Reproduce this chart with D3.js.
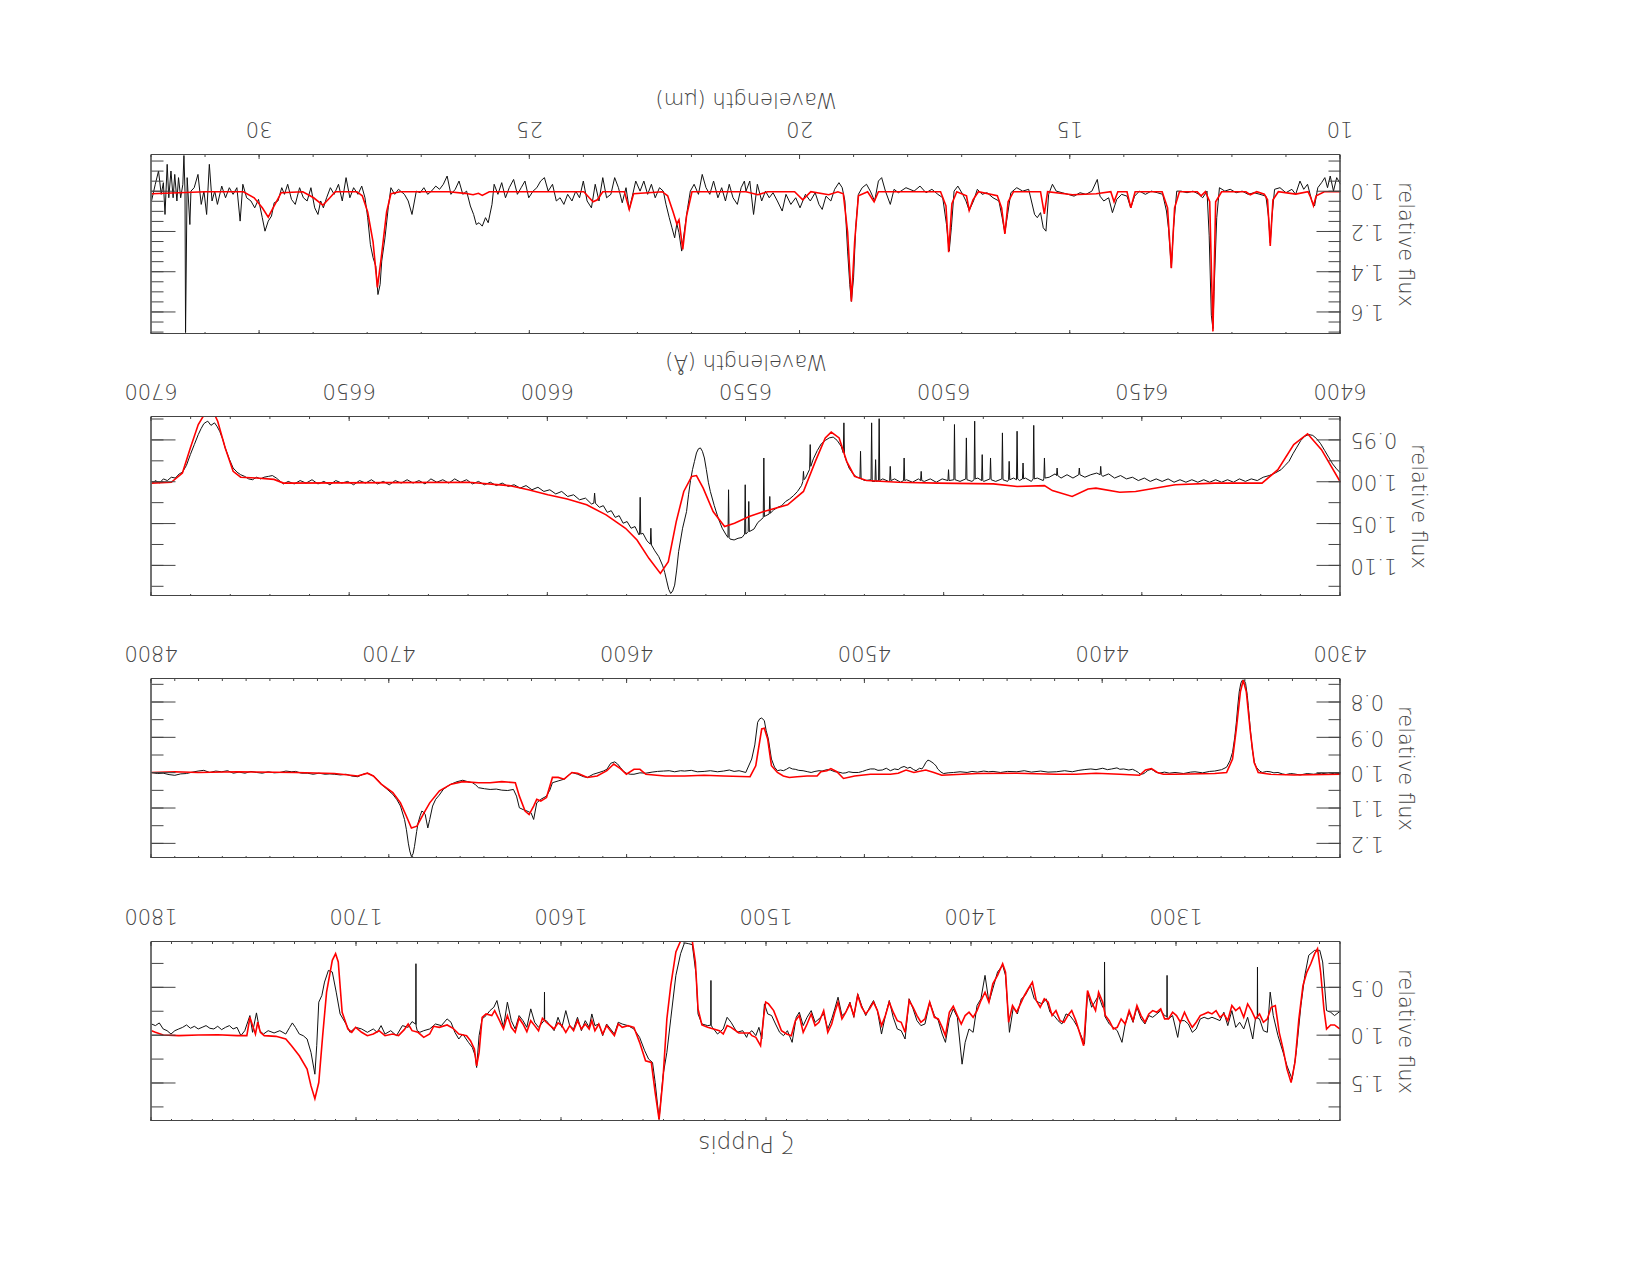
<!DOCTYPE html>
<html>
<head>
<meta charset="utf-8">
<script src="https://d3js.org/d3.v7.min.js"></script>
<style>
  body { margin: 0; background: #fff; }
</style>
</head>
<body>
<div id="chart"></div>
<script>
// ---- data: [wavelength, relative flux] ----

// UV (Angstrom)
const uvObserved = [[1800.0,0.878],[1798.1,0.895],[1796.2,0.867],[1794.3,0.930],[1792.4,0.948],[1790.5,0.983],[1788.6,0.948],[1786.7,0.930],[1784.8,0.913],[1782.9,0.888],[1781.0,0.923],[1779.1,0.902],[1777.2,0.930],[1775.3,0.913],[1773.4,0.895],[1771.5,0.923],[1769.6,0.930],[1767.7,0.902],[1765.8,0.937],[1763.9,0.913],[1762.0,0.895],[1760.2,0.930],[1758.3,0.913],[1756.4,1.000],[1754.5,0.948],[1752.0,0.790],[1750.7,0.965],[1748.8,0.762],[1747.2,0.948],[1745.4,0.983],[1743.1,0.948],[1740.2,0.972],[1737.4,0.948],[1734.5,0.983],[1732.6,0.913],[1731.3,0.867],[1729.8,0.913],[1727.9,0.983],[1726.0,1.000],[1724.1,1.035],[1722.2,1.175],[1720.3,1.403],[1719.4,1.105],[1718.4,0.650],[1716.9,0.580],[1715.6,0.440],[1713.7,0.318],[1711.8,0.335],[1709.9,0.545],[1708.0,0.773],[1705.1,0.878],[1703.2,0.965],[1700.4,0.913],[1697.5,0.930],[1694.7,0.965],[1691.8,0.930],[1689.9,0.965],[1688.0,0.895],[1686.1,0.983],[1683.3,0.948],[1680.5,1.000],[1677.6,0.895],[1674.8,0.913],[1672.9,0.853],[1671.1,0.880],[1671.0,0.248],[1670.9,0.900],[1670.4,0.948],[1669.1,0.965],[1667.2,0.948],[1664.3,0.930],[1661.5,0.878],[1658.6,0.895],[1655.8,0.825],[1653.9,0.860],[1652.0,0.965],[1650.1,1.035],[1648.2,0.983],[1645.4,1.070],[1643.5,1.123],[1642.1,1.210],[1641.4,1.333],[1640.2,1.000],[1638.7,0.825],[1636.8,0.790],[1634.9,0.738],[1633.0,0.703],[1631.5,0.633],[1630.2,0.755],[1628.3,0.913],[1626.4,0.650],[1624.5,0.843],[1622.6,0.930],[1620.7,0.790],[1618.8,0.843],[1616.9,0.913],[1615.0,0.720],[1613.1,0.860],[1611.2,0.913],[1608.4,0.840],[1608.3,0.545],[1608.2,0.840],[1607.4,0.843],[1605.5,0.895],[1603.6,0.948],[1601.7,0.808],[1599.8,0.913],[1597.9,0.738],[1596.0,0.895],[1594.1,0.930],[1592.2,0.808],[1590.3,0.948],[1588.4,0.843],[1586.5,0.913],[1585.2,0.773],[1583.7,0.895],[1581.8,0.878],[1579.9,1.000],[1578.0,0.878],[1576.1,0.930],[1574.2,0.983],[1572.3,0.860],[1570.4,0.878],[1567.6,0.895],[1564.7,0.930],[1561.9,1.018],[1559.4,1.158],[1557.5,1.245],[1555.6,1.280],[1554.3,1.490],[1552.4,1.875],[1550.5,1.420],[1548.6,1.175],[1546.7,0.825],[1544.2,0.370],[1541.9,0.143],[1540.0,0.030],[1538.1,0.038],[1536.2,0.048],[1534.3,0.370],[1533.4,0.773],[1531.5,0.878],[1528.7,0.895],[1527.2,0.890],[1527.1,0.423],[1527.0,0.890],[1526.4,0.913],[1523.9,0.983],[1521.1,0.930],[1519.2,0.808],[1517.3,0.860],[1514.4,0.965],[1511.6,0.948],[1509.7,1.018],[1509.1,0.983],[1507.1,0.948],[1505.2,1.000],[1503.7,0.913],[1502.3,1.035],[1501.0,0.668],[1499.4,0.773],[1497.5,0.790],[1495.6,0.878],[1493.6,0.965],[1491.7,1.000],[1489.8,0.948],[1487.5,1.070],[1485.5,0.808],[1484.0,0.755],[1482.1,0.895],[1480.2,0.808],[1478.2,0.738],[1476.3,0.860],[1474.4,0.825],[1472.1,0.773],[1470.1,0.930],[1468.2,0.825],[1466.7,0.720],[1465.1,0.598],[1463.2,0.790],[1461.3,0.755],[1459.3,0.650],[1457.4,0.808],[1455.5,0.563],[1453.6,0.685],[1451.6,0.790],[1449.7,0.703],[1447.8,0.633],[1445.9,0.738],[1443.9,0.983],[1442.0,0.790],[1440.1,0.633],[1438.2,0.808],[1436.2,0.930],[1434.3,0.948],[1432.4,1.035],[1430.4,0.615],[1428.5,0.720],[1426.6,0.843],[1424.7,0.895],[1422.7,0.878],[1420.4,0.650],[1418.1,0.790],[1416.2,0.843],[1414.3,0.983],[1412.7,1.070],[1410.8,0.825],[1408.9,0.720],[1406.9,0.808],[1404.6,1.298],[1403.1,1.070],[1401.2,0.930],[1399.2,0.965],[1397.3,0.685],[1395.4,0.615],[1393.4,0.370],[1391.5,0.650],[1389.6,0.510],[1387.3,0.335],[1384.8,0.265],[1383.4,0.370],[1381.5,0.965],[1379.6,0.703],[1377.6,0.773],[1375.7,0.615],[1373.8,0.580],[1371.3,0.475],[1369.4,0.615],[1367.4,0.650],[1365.5,0.668],[1363.6,0.615],[1361.7,0.755],[1359.7,0.790],[1357.8,0.843],[1355.9,0.878],[1353.9,0.773],[1352.0,0.790],[1350.1,0.843],[1348.2,0.913],[1346.2,1.018],[1344.9,1.088],[1343.4,0.545],[1341.4,0.703],[1339.9,0.650],[1338.0,0.580],[1336.0,0.703],[1335.2,0.700],[1335.1,0.230],[1334.9,0.800],[1332.8,0.878],[1330.8,0.913],[1328.9,0.948],[1326.6,1.070],[1325.0,0.878],[1323.1,0.755],[1321.2,0.860],[1319.3,0.703],[1317.3,0.825],[1315.4,0.878],[1313.5,0.790],[1311.6,0.808],[1309.6,0.773],[1307.7,0.738],[1305.8,0.790],[1304.7,0.800],[1304.6,0.370],[1304.5,0.810],[1303.9,0.825],[1301.9,0.790],[1299.4,1.018],[1298.1,0.843],[1296.1,0.843],[1294.2,0.878],[1292.3,0.965],[1290.4,0.930],[1288.4,0.825],[1286.5,0.808],[1284.6,0.825],[1282.7,0.808],[1280.7,0.825],[1278.8,0.843],[1276.9,0.755],[1275.0,0.895],[1273.0,0.738],[1271.1,0.913],[1269.2,0.860],[1267.2,0.930],[1265.3,0.808],[1262.8,1.035],[1261.5,0.825],[1260.6,0.810],[1260.5,0.283],[1260.4,0.820],[1259.5,0.825],[1257.6,0.948],[1255.7,0.965],[1254.3,0.545],[1252.8,0.790],[1250.5,1.000],[1248.0,1.175],[1246.1,1.315],[1243.6,1.455],[1241.6,1.175],[1239.3,0.685],[1237.4,0.370],[1235.5,0.160],[1232.6,0.108],[1230.1,0.108],[1228.7,0.230],[1226.8,0.738],[1224.8,0.755],[1222.9,0.790],[1220.4,0.748]];

const uvModel = [[1800,0.948],[1798.1,0.965],[1794.3,0.993],[1786.7,1.0],[1777.2,0.993],[1767.7,0.990],[1758.3,1.0],[1753.5,1.0],[1752.0,0.808],[1750.7,0.895],[1749.3,0.983],[1748.2,0.860],[1746.9,0.965],[1745.0,1.0],[1739.3,1.007],[1734.5,1.035],[1731.7,1.105],[1727.9,1.21],[1724.1,1.35],[1722.2,1.525],[1720.3,1.658],[1718.4,1.49],[1716.5,1.0],[1714.6,0.545],[1711.8,0.213],[1710.2,0.143],[1708.9,0.23],[1707.0,0.755],[1704.2,0.93],[1702.3,0.965],[1700.4,0.913],[1697.5,0.965],[1694.7,1.0],[1691.8,0.983],[1689.0,0.948],[1686.1,1.0],[1682.4,0.983],[1679.5,1.0],[1676.7,0.937],[1674.8,0.878],[1672.9,0.948],[1670.0,0.965],[1667.2,1.018],[1664.3,0.983],[1662.4,0.902],[1659.6,0.913],[1655.8,0.888],[1652.9,0.923],[1650.1,0.983],[1646.3,1.0],[1644.4,1.053],[1642.5,1.14],[1641.4,1.315],[1640.2,1.175],[1638.7,0.808],[1636.8,0.773],[1634.0,0.79],[1632.6,0.738],[1630.2,0.843],[1628.3,0.93],[1626.4,0.79],[1624.5,0.913],[1622.6,0.965],[1620.7,0.818],[1618.8,0.878],[1616.9,0.958],[1615.0,0.843],[1613.1,0.895],[1611.2,0.948],[1609.3,0.818],[1607.4,0.86],[1605.5,0.895],[1603.6,0.93],[1601.7,0.867],[1599.8,0.895],[1597.9,0.965],[1596.0,0.895],[1594.1,0.948],[1592.2,0.843],[1590.3,0.93],[1588.4,0.878],[1586.5,0.93],[1585.2,0.843],[1583.7,0.948],[1581.8,0.878],[1579.9,0.983],[1578.0,0.895],[1576.1,0.948],[1574.2,1.0],[1572.3,0.878],[1570.4,0.913],[1567.6,0.895],[1564.7,0.913],[1561.9,1.07],[1559.0,1.263],[1556.2,1.28],[1554.3,1.595],[1552.4,1.875],[1550.5,1.455],[1548.6,0.825],[1546.7,0.475],[1544.2,0.125],[1541.9,0.01],[1539.1,0.0],[1536.2,0.01],[1534.7,0.23],[1533.4,0.72],[1531.5,0.888],[1528.7,0.913],[1525.8,0.93],[1523.0,0.948],[1521.1,0.983],[1519.2,0.895],[1517.3,0.913],[1513.5,0.972],[1508.2,0.972],[1507.1,1.0],[1505.2,1.018],[1502.9,1.105],[1501.3,0.79],[1500.4,0.65],[1499.0,0.668],[1496.5,0.738],[1494.6,0.843],[1492.7,0.948],[1490.2,0.983],[1487.9,1.0],[1485.9,0.843],[1484.0,0.79],[1482.1,0.965],[1480.2,0.878],[1478.2,0.773],[1476.3,0.895],[1474.4,0.86],[1472.1,0.738],[1470.1,0.965],[1468.2,0.878],[1466.7,0.755],[1465.1,0.65],[1463.2,0.825],[1461.3,0.755],[1459.3,0.668],[1457.4,0.79],[1455.5,0.58],[1453.6,0.703],[1451.6,0.773],[1449.7,0.72],[1447.8,0.65],[1445.9,0.738],[1443.9,0.895],[1442.0,0.79],[1440.1,0.65],[1438.2,0.755],[1436.2,0.843],[1434.3,0.86],[1432.4,0.965],[1430.4,0.633],[1428.5,0.703],[1426.6,0.79],[1424.7,0.86],[1422.7,0.825],[1420.4,0.65],[1418.1,0.808],[1416.2,0.825],[1414.3,0.913],[1412.7,1.0],[1410.8,0.755],[1408.9,0.692],[1406.9,0.79],[1405.0,0.878],[1403.1,0.79],[1401.2,0.755],[1399.2,0.808],[1397.3,0.738],[1395.4,0.633],[1393.4,0.545],[1391.5,0.65],[1389.6,0.458],[1387.3,0.37],[1384.8,0.248],[1383.4,0.335],[1381.9,0.86],[1380.0,0.685],[1378.0,0.755],[1376.1,0.668],[1374.2,0.58],[1372.3,0.51],[1370.3,0.44],[1368.4,0.633],[1366.5,0.703],[1364.5,0.615],[1362.6,0.65],[1360.7,0.79],[1358.8,0.738],[1356.8,0.843],[1354.9,0.86],[1353.0,0.79],[1351.1,0.738],[1349.1,0.843],[1346.8,1.0],[1345.3,1.105],[1343.4,0.528],[1341.4,0.65],[1339.5,0.738],[1338.0,0.545],[1336.0,0.65],[1334.7,0.79],[1332.8,0.843],[1330.8,0.93],[1328.9,0.913],[1327.0,0.825],[1325.0,0.878],[1323.1,0.738],[1321.2,0.843],[1319.3,0.685],[1317.3,0.79],[1315.4,0.86],[1313.5,0.773],[1311.6,0.738],[1309.6,0.755],[1307.7,0.72],[1305.8,0.825],[1303.9,0.825],[1301.9,0.755],[1300.0,0.79],[1298.1,0.86],[1296.1,0.755],[1294.2,0.843],[1292.3,0.913],[1290.4,0.86],[1288.4,0.79],[1286.5,0.773],[1284.6,0.755],[1282.7,0.773],[1280.7,0.738],[1278.8,0.808],[1276.9,0.773],[1275.0,0.843],[1273.0,0.685],[1271.1,0.738],[1269.2,0.703],[1267.2,0.808],[1265.3,0.668],[1263.4,0.738],[1261.5,0.825],[1259.5,0.773],[1257.6,0.86],[1255.7,0.825],[1253.8,0.703],[1251.8,0.685],[1249.9,0.965],[1248.0,1.14],[1246.1,1.35],[1244.1,1.49],[1242.2,1.28],[1240.3,0.825],[1238.3,0.475],[1236.4,0.335],[1234.5,0.248],[1232.6,0.143],[1231.2,0.09],[1229.7,0.335],[1228.1,0.72],[1226.8,0.93],[1224.8,0.888],[1222.9,0.888],[1220.4,0.93]];

// optical blue (Angstrom)
const blueObserved = [[4800.0,0.998],[4797.5,1.001],[4795.1,1.000],[4792.6,1.004],[4790.2,1.006],[4787.7,1.002],[4785.3,1.001],[4782.8,0.997],[4780.4,0.994],[4778.0,0.992],[4775.5,0.998],[4773.0,0.994],[4770.5,0.996],[4768.0,0.993],[4765.6,1.000],[4763.2,0.997],[4760.7,1.000],[4758.2,0.995],[4755.8,0.998],[4753.4,1.000],[4750.9,0.996],[4748.4,0.999],[4746.0,0.998],[4743.5,0.994],[4741.0,0.996],[4739.4,0.995],[4737.0,1.000],[4734.5,1.000],[4732.0,1.003],[4729.6,1.000],[4727.0,1.003],[4725.0,1.002],[4723.1,1.003],[4720.5,1.005],[4718.2,1.003],[4715.8,1.008],[4713.3,1.010],[4711.0,1.003],[4709.2,1.000],[4706.7,1.008],[4705.0,1.018],[4703.4,1.031],[4701.0,1.045],[4698.5,1.060],[4696.8,1.075],[4695.3,1.093],[4693.6,1.131],[4692.8,1.160],[4692.0,1.198],[4691.4,1.220],[4690.7,1.236],[4690.0,1.228],[4689.4,1.207],[4688.5,1.165],[4687.9,1.141],[4687.0,1.120],[4686.3,1.107],[4685.4,1.112],[4684.9,1.117],[4684.3,1.138],[4683.8,1.155],[4683.0,1.131],[4681.8,1.093],[4680.5,1.074],[4679.0,1.062],[4677.3,1.046],[4675.5,1.037],[4674.0,1.031],[4671.5,1.024],[4669.1,1.020],[4667.0,1.024],[4665.0,1.027],[4663.7,1.033],[4662.5,1.041],[4660.0,1.044],[4657.6,1.046],[4655.0,1.045],[4652.7,1.048],[4650.2,1.049],[4647.8,1.046],[4646.5,1.065],[4645.3,1.098],[4643.7,1.103],[4642.1,1.107],[4641.2,1.110],[4640.4,1.112],[4639.3,1.131],[4638.0,1.084],[4636.3,1.074],[4633.9,1.065],[4632.5,1.048],[4631.4,1.027],[4629.0,1.022],[4626.5,1.017],[4625.0,1.008],[4623.2,0.998],[4620.8,1.003],[4618.3,1.010],[4616.7,1.012],[4614.2,1.003],[4611.8,0.998],[4610.0,0.994],[4608.5,0.989],[4606.9,0.972],[4605.2,0.968],[4604.0,0.974],[4602.8,0.984],[4601.5,0.995],[4600.3,1.000],[4598.7,1.003],[4597.1,1.003],[4594.6,0.999],[4592.1,1.000],[4589.5,0.997],[4587.2,0.995],[4584.7,0.994],[4582.3,0.993],[4580.0,0.996],[4577.5,0.993],[4575.8,0.994],[4573.0,0.992],[4570.5,0.996],[4567.6,0.995],[4565.0,0.993],[4562.0,0.996],[4559.4,0.994],[4557.0,0.991],[4555.0,0.995],[4552.9,0.993],[4550.1,0.998],[4547.6,0.960],[4546.3,0.920],[4545.1,0.856],[4544.2,0.846],[4543.4,0.844],[4542.3,0.851],[4541.5,0.880],[4540.6,0.903],[4539.3,0.960],[4538.0,0.983],[4536.8,0.993],[4535.5,0.991],[4534.3,0.993],[4533.0,0.989],[4531.8,0.984],[4530.5,0.988],[4529.3,0.989],[4527.8,0.992],[4526.0,0.993],[4524.0,0.996],[4522.6,0.998],[4521.0,0.995],[4519.3,0.993],[4518.0,0.994],[4516.0,0.990],[4514.5,0.991],[4512.6,0.996],[4511.0,0.997],[4509.3,1.000],[4508.0,0.999],[4506.8,0.996],[4505.0,0.998],[4502.7,0.998],[4501.0,0.995],[4499.3,0.991],[4497.7,0.988],[4496.0,0.988],[4494.5,0.992],[4492.7,0.991],[4491.0,0.986],[4489.3,0.993],[4487.5,0.988],[4486.0,0.990],[4484.8,0.984],[4483.5,0.981],[4482.0,0.986],[4481.0,0.983],[4479.5,0.990],[4478.5,0.993],[4477.0,0.986],[4476.0,0.988],[4475.2,0.980],[4474.4,0.970],[4473.5,0.963],[4472.7,0.965],[4471.8,0.969],[4471.0,0.973],[4470.0,0.980],[4469.4,0.988],[4468.0,0.997],[4466.9,1.001],[4465.0,0.999],[4462.7,0.998],[4460.0,0.996],[4457.0,0.998],[4455.0,0.995],[4452.7,0.997],[4450.0,0.994],[4448.0,0.996],[4446.1,0.995],[4443.0,0.998],[4440.0,0.995],[4436.1,0.996],[4433.0,0.993],[4430.0,0.997],[4426.1,0.994],[4423.0,0.997],[4419.5,0.996],[4416.0,0.993],[4412.8,0.996],[4410.0,0.992],[4407.8,0.990],[4405.0,0.988],[4402.8,0.990],[4400.0,0.986],[4398.0,0.990],[4396.2,0.988],[4394.0,0.985],[4392.8,0.989],[4391.2,0.988],[4389.0,0.991],[4387.5,0.989],[4386.2,0.993],[4385.0,0.998],[4384.2,1.003],[4383.0,1.002],[4382.0,0.998],[4381.0,0.992],[4379.5,0.989],[4378.5,0.993],[4377.9,0.996],[4376.2,1.000],[4374.0,0.997],[4372.0,1.000],[4369.6,0.998],[4366.0,1.001],[4363.0,0.997],[4361.2,0.996],[4358.0,0.999],[4355.0,0.995],[4352.9,0.994],[4350.0,0.990],[4347.9,0.983],[4346.5,0.965],[4345.4,0.941],[4344.5,0.900],[4343.8,0.856],[4343.2,0.810],[4342.6,0.770],[4341.9,0.745],[4341.3,0.737],[4340.5,0.737],[4339.9,0.746],[4339.2,0.780],[4338.8,0.808],[4338.0,0.870],[4337.1,0.932],[4336.2,0.970],[4335.4,0.983],[4334.0,0.994],[4332.9,0.998],[4331.0,0.995],[4329.6,0.996],[4328.0,0.999],[4326.3,0.998],[4324.5,1.002],[4323.0,1.004],[4321.0,1.001],[4319.6,1.002],[4317.0,1.005],[4314.0,1.001],[4311.3,1.003],[4308.0,1.000],[4305.0,1.003],[4302.5,1.000],[4300.0,1.001]];

const blueModel = [[4800,0.998],[4790.2,0.996],[4780.4,0.998],[4764.0,0.996],[4739.4,0.998],[4723.1,1.001],[4713.3,1.008],[4709.2,1.0],[4706.7,1.008],[4703.4,1.031],[4698.5,1.055],[4695.3,1.084],[4692.8,1.122],[4690.7,1.155],[4688.4,1.150],[4685.4,1.112],[4683.0,1.084],[4678.9,1.050],[4674.0,1.031],[4669.1,1.024],[4662.5,1.027],[4657.6,1.027],[4652.7,1.024],[4647.0,1.027],[4645.3,1.065],[4642.9,1.107],[4641.2,1.117],[4639.3,1.093],[4638.0,1.074],[4636.3,1.079],[4633.9,1.069],[4631.4,1.012],[4629.0,1.012],[4626.5,1.017],[4623.2,0.998],[4620.8,1.0],[4616.7,1.012],[4612.6,1.008],[4608.5,0.993],[4605.6,0.974],[4602.8,0.987],[4600.3,1.003],[4597.1,0.989],[4594.6,0.989],[4592.1,1.003],[4584.0,1.008],[4575.8,1.008],[4567.6,1.006],[4559.4,1.008],[4548.3,1.010],[4545.9,0.979],[4543.4,0.875],[4542.3,0.873],[4540.9,0.903],[4539.3,0.979],[4536.8,0.998],[4534.3,1.008],[4531.8,1.012],[4528.5,1.010],[4524.3,1.008],[4520.1,1.008],[4518.5,0.996],[4516.0,0.993],[4514.3,0.987],[4511.8,0.996],[4509.0,1.015],[4504.3,1.008],[4497.7,1.003],[4489.3,1.003],[4486.0,1.0],[4482.7,0.991],[4479.4,0.998],[4474.4,0.991],[4471.0,0.998],[4467.7,1.006],[4452.7,1.001],[4436.1,1.0],[4419.5,1.003],[4411.1,1.003],[4402.8,1.0],[4392.8,1.003],[4384.5,1.006],[4382.0,0.991],[4379.5,0.987],[4377.0,0.998],[4374.5,1.003],[4369.6,1.003],[4352.9,1.001],[4347.9,0.998],[4345.4,0.960],[4343.8,0.875],[4342.1,0.770],[4340.9,0.737],[4339.6,0.770],[4337.9,0.884],[4336.3,0.970],[4334.6,0.998],[4329.6,1.003],[4319.6,1.005],[4300,1.003]];

// H-alpha region (Angstrom)
const haObserved = [[6700.0,1.002],[6699.0,0.998],[6698.0,1.001],[6697.0,0.996],[6696.0,0.998],[6695.0,0.994],[6694.0,0.995],[6693.0,0.990],[6692.2,0.988],[6691.2,0.980],[6690.2,0.967],[6689.2,0.955],[6688.2,0.943],[6687.5,0.936],[6686.8,0.930],[6686.2,0.928],[6685.8,0.927],[6685.0,0.932],[6684.1,0.929],[6683.5,0.933],[6682.8,0.939],[6682.0,0.949],[6681.4,0.959],[6680.4,0.972],[6679.4,0.983],[6678.4,0.988],[6677.5,0.991],[6676.5,0.993],[6675.5,0.996],[6674.5,0.997],[6673.5,0.994],[6672.5,0.996],[6671.6,0.994],[6670.5,0.993],[6669.5,0.992],[6668.5,0.995],[6667.5,0.999],[6666.7,1.002],[6665.5,0.999],[6664.0,1.002],[6662.5,0.998],[6661.0,1.001],[6659.5,0.997],[6658.0,1.002],[6656.5,0.999],[6655.0,1.003],[6653.5,0.998],[6652.0,1.001],[6650.5,0.999],[6649.0,1.003],[6647.5,0.998],[6646.0,1.001],[6644.5,0.997],[6643.0,1.002],[6641.5,0.999],[6640.0,1.003],[6638.5,0.998],[6637.0,1.001],[6635.5,0.997],[6634.0,1.001],[6632.5,0.998],[6631.0,1.002],[6629.5,0.996],[6628.0,1.000],[6626.5,0.997],[6625.0,1.001],[6623.5,0.996],[6622.0,1.000],[6620.5,0.997],[6619.0,1.002],[6617.5,0.999],[6616.0,1.003],[6614.5,1.000],[6613.0,1.004],[6611.5,1.001],[6610.0,1.005],[6608.5,1.003],[6607.0,1.007],[6605.5,1.004],[6604.0,1.009],[6602.5,1.006],[6601.0,1.011],[6599.5,1.009],[6598.0,1.014],[6596.5,1.011],[6595.0,1.017],[6593.5,1.015],[6592.0,1.021],[6590.5,1.019],[6589.0,1.026],[6588.4,1.025],[6588.2,1.013],[6588.0,1.025],[6587.0,1.030],[6586.0,1.028],[6585.0,1.036],[6584.0,1.034],[6583.0,1.042],[6582.0,1.040],[6581.0,1.049],[6580.0,1.047],[6579.0,1.055],[6578.0,1.053],[6577.0,1.063],[6576.85,1.062],[6576.7,1.018],[6576.55,1.062],[6576.0,1.061],[6575.0,1.070],[6574.15,1.074],[6574.0,1.055],[6573.85,1.075],[6573.0,1.082],[6572.0,1.089],[6571.0,1.100],[6570.5,1.108],[6570.0,1.118],[6569.5,1.128],[6569.0,1.133],[6568.5,1.130],[6568.0,1.123],[6567.5,1.105],[6567.0,1.083],[6566.0,1.055],[6565.0,1.035],[6564.5,1.015],[6564.0,0.998],[6563.5,0.985],[6563.0,0.975],[6562.5,0.965],[6562.0,0.960],[6561.5,0.959],[6561.0,0.963],[6560.5,0.971],[6560.0,0.985],[6559.5,1.000],[6559.0,1.011],[6558.0,1.028],[6557.0,1.043],[6556.0,1.055],[6555.0,1.063],[6554.55,1.066],[6554.4,1.009],[6554.25,1.066],[6554.0,1.068],[6553.0,1.069],[6552.0,1.067],[6551.0,1.066],[6550.35,1.062],[6550.2,1.003],[6550.05,1.062],[6549.45,1.059],[6549.3,1.023],[6549.15,1.059],[6548.0,1.056],[6547.0,1.048],[6546.0,1.044],[6545.65,1.042],[6545.5,0.971],[6545.35,1.041],[6545.0,1.040],[6544.15,1.038],[6544.0,1.017],[6543.85,1.037],[6543.0,1.033],[6542.0,1.030],[6541.0,1.028],[6540.0,1.023],[6539.0,1.020],[6538.0,1.016],[6537.0,1.011],[6536.0,1.004],[6535.65,0.999],[6535.5,0.987],[6535.35,0.997],[6535.0,0.995],[6534.0,0.985],[6533.95,0.984],[6533.8,0.955],[6533.65,0.981],[6533.0,0.972],[6532.0,0.962],[6531.0,0.954],[6530.0,0.950],[6529.0,0.947],[6528.0,0.946],[6527.0,0.950],[6526.0,0.957],[6525.45,0.965],[6525.3,0.929],[6525.15,0.968],[6525.0,0.970],[6524.0,0.983],[6523.0,0.990],[6522.0,0.994],[6521.25,0.995],[6521.1,0.963],[6520.95,0.996],[6520.0,0.998],[6518.45,0.997],[6518.3,0.929],[6518.15,0.999],[6517.45,0.999],[6517.3,0.973],[6517.15,0.999],[6516.55,0.998],[6516.4,0.924],[6516.25,0.998],[6515.5,0.996],[6514.0,0.999],[6513.75,0.998],[6513.6,0.981],[6513.45,0.998],[6512.5,0.996],[6511.0,1.000],[6510.25,0.998],[6510.1,0.971],[6509.95,0.998],[6509.5,0.997],[6508.0,1.000],[6506.5,0.996],[6505.95,0.998],[6505.8,0.987],[6505.65,0.998],[6505.0,0.999],[6503.5,0.996],[6502.0,1.000],[6500.5,0.996],[6499.05,0.998],[6498.9,0.985],[6498.75,0.998],[6497.55,0.997],[6497.4,0.931],[6497.25,0.997],[6496.0,0.999],[6494.55,0.996],[6494.4,0.947],[6494.25,0.997],[6493.0,0.999],[6492.45,0.997],[6492.3,0.927],[6492.15,0.996],[6491.5,0.995],[6490.55,0.998],[6490.4,0.967],[6490.25,0.998],[6490.0,0.999],[6488.45,0.996],[6488.3,0.971],[6488.15,0.997],[6487.0,0.999],[6485.45,0.996],[6485.3,0.941],[6485.15,0.997],[6484.0,0.999],[6483.75,0.997],[6483.6,0.975],[6483.45,0.997],[6482.5,0.995],[6481.75,0.997],[6481.6,0.939],[6481.45,0.996],[6481.0,0.998],[6480.25,0.996],[6480.1,0.977],[6479.95,0.996],[6479.5,0.995],[6478.0,0.999],[6477.55,0.996],[6477.4,0.932],[6477.25,0.996],[6476.5,0.995],[6475.0,0.998],[6474.85,0.996],[6474.7,0.971],[6474.55,0.995],[6473.5,0.994],[6472.0,0.990],[6471.65,0.992],[6471.5,0.983],[6471.35,0.992],[6470.5,0.995],[6469.0,0.991],[6467.5,0.995],[6466.05,0.991],[6465.9,0.983],[6465.75,0.991],[6464.5,0.994],[6463.0,0.991],[6461.5,0.989],[6460.65,0.991],[6460.5,0.981],[6460.35,0.991],[6460.0,0.993],[6458.5,0.990],[6457.0,0.995],[6455.5,0.992],[6454.0,0.996],[6452.5,0.994],[6451.0,0.998],[6449.5,0.995],[6448.0,0.999],[6446.5,0.996],[6445.0,0.999],[6443.5,0.996],[6442.0,1.000],[6440.5,0.997],[6439.0,1.000],[6437.5,0.997],[6436.0,1.000],[6434.5,0.997],[6433.0,1.000],[6431.5,0.997],[6430.0,1.000],[6428.5,0.997],[6427.0,1.000],[6425.5,0.996],[6424.0,0.999],[6422.5,0.996],[6421.0,0.998],[6419.5,0.994],[6418.0,0.992],[6416.5,0.989],[6415.0,0.985],[6414.0,0.980],[6413.0,0.975],[6412.0,0.966],[6411.0,0.958],[6410.0,0.950],[6409.0,0.945],[6408.0,0.943],[6407.0,0.944],[6406.0,0.948],[6405.0,0.954],[6404.0,0.962],[6403.0,0.970],[6402.0,0.978],[6401.0,0.984],[6400.0,0.989]];

const haModel = [[6700,1.001],[6695,1.0],[6692.2,0.989],[6690.2,0.959],[6688.2,0.931],[6686.8,0.92],[6685.3,0.918],[6684.0,0.92],[6683.3,0.927],[6681.4,0.959],[6679.4,0.987],[6677.5,0.994],[6673.5,0.995],[6669.1,0.9966],[6666.7,1.001],[6640,1.0005],[6620,1.0],[6609.8,1.004],[6604.9,1.009],[6600,1.015],[6595.1,1.020],[6590.2,1.027],[6585.3,1.039],[6580.4,1.055],[6577.5,1.069],[6574.5,1.091],[6571.6,1.109],[6569.6,1.095],[6567.6,1.047],[6565.7,1.011],[6563.7,0.993],[6562.5,0.992],[6560.8,1.007],[6558.3,1.035],[6555.4,1.053],[6552.9,1.049],[6549.2,1.041],[6545.5,1.035],[6539.5,1.027],[6535.5,1.011],[6532.5,0.975],[6530,0.947],[6528.5,0.940],[6526.5,0.947],[6524.6,0.975],[6522.6,0.993],[6519.6,0.998],[6511.6,1.0],[6501.6,1.001],[6487.6,1.002],[6481.6,1.005],[6474.7,1.004],[6472.7,1.010],[6467.7,1.017],[6463.7,1.008],[6461.7,1.007],[6455.7,1.012],[6451.7,1.011],[6441.7,1.003],[6431.7,1.001],[6419.8,1.001],[6415.8,0.985],[6411.8,0.955],[6408.3,0.942],[6404.8,0.961],[6400,1.0]];

// infrared (micron)
const irObserved = [[32.00,1.046],[31.93,0.963],[31.87,0.897],[31.82,1.013],[31.78,0.955],[31.75,1.113],[31.71,0.864],[31.68,1.030],[31.64,0.897],[31.60,1.030],[31.57,0.914],[31.53,1.046],[31.50,0.930],[31.46,1.030],[31.42,0.963],[31.40,0.82],[31.38,1.0],[31.37,1.70],[31.34,0.930],[31.29,1.163],[31.27,0.997],[31.21,0.980],[31.14,0.914],[31.08,1.063],[31.03,0.997],[30.98,1.113],[30.93,0.864],[30.88,1.046],[30.83,0.997],[30.78,1.063],[30.70,0.972],[30.63,1.030],[30.56,0.980],[30.49,1.013],[30.42,0.980],[30.36,1.146],[30.31,0.963],[30.24,1.030],[30.16,1.046],[30.09,1.080],[30.02,1.038],[29.95,1.129],[29.90,1.196],[29.84,1.146],[29.78,1.121],[29.73,1.055],[29.66,1.046],[29.59,0.980],[29.54,1.013],[29.48,0.963],[29.41,1.038],[29.34,1.063],[29.26,0.980],[29.19,1.030],[29.12,1.046],[29.05,0.980],[28.98,1.080],[28.92,1.113],[28.87,1.046],[28.82,1.080],[28.76,1.030],[28.69,0.980],[28.62,1.013],[28.54,0.963],[28.47,1.046],[28.40,0.930],[28.33,1.030],[28.26,0.980],[28.18,1.013],[28.11,0.972],[28.05,1.030],[28.00,1.129],[27.95,1.262],[27.90,1.328],[27.85,1.370],[27.81,1.511],[27.77,1.461],[27.74,1.345],[27.68,1.229],[27.62,1.080],[27.57,0.980],[27.50,1.013],[27.43,0.988],[27.32,1.013],[27.25,1.046],[27.18,1.113],[27.10,0.997],[27.03,1.005],[26.96,0.980],[26.89,1.013],[26.82,0.997],[26.74,0.972],[26.67,0.988],[26.60,0.963],[26.53,0.922],[26.46,1.013],[26.38,0.988],[26.31,0.947],[26.24,1.013],[26.17,0.997],[26.10,1.071],[26.04,1.113],[25.99,1.163],[25.94,1.154],[25.88,1.171],[25.82,1.129],[25.77,1.154],[25.70,1.063],[25.66,0.963],[25.59,1.013],[25.52,0.955],[25.45,1.030],[25.38,0.980],[25.30,0.939],[25.23,1.013],[25.16,0.980],[25.09,0.947],[25.02,1.030],[24.94,0.997],[24.87,0.980],[24.80,0.947],[24.73,0.930],[24.66,0.997],[24.58,0.963],[24.51,1.046],[24.44,1.030],[24.37,1.063],[24.30,1.013],[24.22,1.046],[24.15,0.997],[24.08,1.030],[24.01,0.947],[23.94,1.046],[23.86,1.080],[23.79,0.963],[23.72,1.046],[23.65,0.930],[23.58,1.030],[23.50,1.013],[23.43,0.930],[23.36,0.980],[23.29,1.055],[23.22,0.980],[23.16,1.088],[23.11,1.030],[23.04,0.947],[22.96,0.997],[22.89,0.947],[22.82,1.013],[22.75,0.963],[22.68,1.030],[22.60,0.980],[22.53,0.997],[22.48,1.063],[22.42,1.129],[22.37,1.179],[22.32,1.229],[22.28,1.159],[22.24,1.204],[22.19,1.295],[22.14,1.196],[22.08,1.080],[22.03,0.997],[21.96,0.963],[21.88,1.013],[21.81,0.914],[21.74,0.980],[21.67,1.013],[21.60,0.947],[21.52,1.030],[21.45,0.980],[21.38,1.046],[21.31,0.963],[21.24,1.030],[21.16,1.063],[21.09,0.980],[21.03,0.947],[21.00,0.997],[20.93,0.947],[20.86,1.113],[20.79,0.963],[20.71,1.046],[20.64,0.997],[20.57,1.030],[20.50,1.005],[20.42,1.046],[20.33,1.096],[20.26,1.013],[20.17,1.063],[20.08,1.030],[20.00,1.080],[19.90,1.013],[19.81,1.046],[19.72,1.005],[19.65,1.063],[19.59,1.088],[19.52,1.022],[19.43,1.046],[19.36,0.988],[19.28,0.955],[19.22,0.980],[19.17,1.046],[19.12,1.295],[19.08,1.461],[19.05,1.545],[19.01,1.428],[18.97,1.179],[18.92,1.013],[18.85,0.980],[18.77,0.963],[18.70,0.997],[18.62,1.046],[18.55,0.947],[18.49,0.930],[18.42,0.997],[18.33,1.063],[18.26,0.988],[18.18,1.005],[18.04,0.980],[17.89,0.997],[17.78,0.972],[17.67,1.005],[17.56,0.988],[17.45,1.013],[17.36,1.030],[17.29,1.163],[17.24,1.295],[17.20,1.179],[17.15,0.997],[17.08,0.972],[16.99,1.013],[16.93,1.046],[16.87,1.093],[16.79,1.046],[16.72,0.988],[16.63,1.013],[16.54,1.005],[16.43,1.030],[16.32,1.046],[16.26,1.129],[16.21,1.204],[16.16,1.113],[16.10,1.005],[15.99,0.980],[15.88,0.997],[15.77,0.988],[15.66,1.113],[15.61,1.129],[15.55,1.104],[15.50,1.179],[15.45,1.196],[15.40,1.013],[15.33,0.963],[15.26,0.997],[15.15,1.005],[15.04,1.013],[14.93,1.022],[14.82,1.005],[14.71,1.013],[14.60,0.997],[14.50,0.939],[14.45,1.022],[14.38,1.046],[14.29,1.030],[14.22,1.104],[14.14,1.038],[14.05,1.013],[13.95,1.022],[13.88,1.080],[13.81,1.022],[13.72,0.997],[13.61,1.013],[13.50,0.997],[13.39,1.005],[13.29,1.013],[13.22,1.096],[13.18,1.188],[13.13,1.378],[13.09,1.179],[13.03,0.997],[12.95,0.997],[12.84,1.005],[12.73,0.997],[12.62,1.013],[12.55,1.030],[12.47,0.997],[12.43,1.216],[12.39,1.614],[12.36,1.680],[12.34,1.495],[12.29,1.129],[12.24,0.980],[12.14,0.997],[12.04,0.988],[11.93,1.005],[11.82,0.997],[11.71,1.013],[11.60,1.005],[11.49,1.013],[11.38,1.022],[11.33,1.129],[11.30,1.254],[11.27,1.129],[11.22,0.988],[11.12,0.980],[11.01,1.005],[10.90,0.988],[10.83,1.013],[10.75,0.947],[10.68,0.988],[10.61,0.963],[10.53,1.046],[10.48,1.071],[10.42,0.980],[10.35,0.955],[10.29,0.930],[10.24,0.980],[10.19,0.922],[10.13,0.997],[10.07,0.930],[10.00,0.963]];

const irModel = [[32.0,1.01],[31.0,1.0],[30.3,1.0],[30.1,1.03],[29.95,1.08],[29.84,1.126],[29.75,1.08],[29.6,1.005],[29.2,1.0],[29.0,1.03],[28.83,1.067],[28.7,1.03],[28.6,1.0],[28.2,1.0],[28.1,1.02],[28.0,1.1],[27.9,1.25],[27.82,1.475],[27.75,1.33],[27.65,1.1],[27.57,1.01],[27.4,1.0],[26.5,1.0],[26.2,1.008],[26.05,1.015],[25.95,1.008],[25.88,1.018],[25.75,1.0],[24.0,1.0],[23.9,1.03],[23.83,1.05],[23.75,1.04],[23.65,1.0],[23.25,1.0],[23.16,1.088],[23.08,1.01],[22.55,1.0],[22.45,1.02],[22.35,1.1],[22.28,1.16],[22.24,1.14],[22.17,1.287],[22.1,1.12],[22.0,1.0],[21.0,1.0],[20.78,1.015],[20.6,1.0],[20.1,1.0],[19.95,1.04],[19.8,1.0],[19.47,1.015],[19.3,1.0],[19.2,1.01],[19.12,1.2],[19.05,1.545],[18.99,1.25],[18.92,1.02],[18.75,1.0],[18.63,1.05],[18.55,1.0],[17.4,1.0],[17.3,1.07],[17.25,1.30],[17.19,1.06],[17.1,1.0],[16.92,1.02],[16.87,1.093],[16.8,1.04],[16.7,1.0],[16.35,1.02],[16.27,1.08],[16.21,1.21],[16.15,1.05],[16.05,1.0],[15.55,1.0],[15.48,1.11],[15.42,1.0],[14.96,1.015],[14.52,1.01],[14.25,1.0],[14.19,1.05],[14.12,1.0],[13.95,1.0],[13.88,1.08],[13.8,1.0],[13.3,1.0],[13.2,1.08],[13.13,1.38],[13.07,1.08],[12.98,1.0],[12.65,1.0],[12.58,1.02],[12.5,1.0],[12.42,1.05],[12.36,1.694],[12.31,1.05],[12.2,1.0],[11.75,1.0],[11.67,1.015],[11.55,1.0],[11.41,1.012],[11.35,1.04],[11.30,1.27],[11.25,1.04],[11.15,1.0],[10.83,1.012],[10.6,1.0],[10.55,1.03],[10.5,1.07],[10.45,1.02],[10.3,1.0],[10.0,1.0]];

// tick labels
const uvXTicks = [1300, 1400, 1500, 1600, 1700, 1800];
const uvYTicks = [0.5, 1.0, 1.5];
const blueXTicks = [4300, 4400, 4500, 4600, 4700, 4800];
const blueYTicks = [0.8, 0.9, 1.0, 1.1, 1.2];
const haXTicks = [6400, 6450, 6500, 6550, 6600, 6650, 6700];
const haYTicks = [0.95, 1.00, 1.05, 1.10];
const irXTicks = [10, 15, 20, 25, 30];
const irYTicks = [1.0, 1.2, 1.4, 1.6];

// ---- layout ----
const W = 1650, H = 1275;
const plotLeft = 309.5, plotRight = 1498.5, panelH = 179;
const font = "'DejaVu Sans', sans-serif";
const ink = "#444";

const panels = [
  { top: 154, obs: uvObserved, model: uvModel, xDomain: [1220, 1800], yDomain: [0.021, 1.892],
    xTicks: uvXTicks, xMinor: 10, yTicks: uvYTicks, yMinor: 0.25, yFmt: ".1f", xLabel: null, yLabelX: 244 },
  { top: 417, obs: blueObserved, model: blueModel, xDomain: [4300, 4800], yDomain: [0.7335, 1.240],
    xTicks: blueXTicks, xMinor: 10, yTicks: blueYTicks, yMinor: 0.05, yFmt: ".1f", xLabel: null, yLabelX: 244 },
  { top: 679, obs: haObserved, model: haModel, xDomain: [6400, 6700], yDomain: [0.922, 1.136],
    xTicks: haXTicks, xMinor: 10, yTicks: haYTicks, yMinor: 0.025, yFmt: ".2f", xLabel: "Wavelength (Å)", yLabelX: 231 },
  { top: 941, obs: irObserved, model: irModel, xDomain: [10, 32], yDomain: [0.8175, 1.707],
    xTicks: irXTicks, xMinor: 1, yTicks: irYTicks, yMinor: 0.05, yFmt: ".1f", xLabel: "Wavelength (μm)", yLabelX: 244 }
];

const svg = d3.select("#chart").append("svg")
  .attr("width", W).attr("height", H);

// the original figure is printed upside down
const root = svg.append("g").attr("transform", `rotate(180 ${W / 2} ${H / 2})`);

function minorValues(domain, step) {
  const lo = Math.min(domain[0], domain[1]), hi = Math.max(domain[0], domain[1]);
  const out = [];
  for (let k = Math.ceil(lo / step - 1e-6); k * step <= hi + 1e-9; k++) out.push(+(k * step).toFixed(4));
  return out;
}

function styleAxis(g) {
  g.selectAll(".domain").attr("stroke", ink).attr("stroke-width", 1);
  g.selectAll(".tick line").attr("stroke", ink).attr("stroke-width", 1);
  g.selectAll("text").attr("font-family", font).attr("font-size", 21)
    .attr("font-weight", 200).attr("fill", ink);
}

panels.forEach((p, i) => {
  const g = root.append("g").attr("transform", `translate(0,${p.top})`);

  const x = d3.scaleLinear().domain(p.xDomain).range([plotLeft, plotRight]);
  const y = d3.scaleLinear().domain(p.yDomain).range([panelH, 0]);

  g.append("clipPath").attr("id", "clip" + i)
    .append("rect").attr("x", plotLeft).attr("y", 0)
    .attr("width", plotRight - plotLeft).attr("height", panelH);

  const line = d3.line().x(d => x(d[0])).y(d => y(d[1]));
  const sortByX = arr => arr.slice().sort((a, b) => a[0] - b[0]);

  g.append("path").datum(sortByX(p.obs))
    .attr("clip-path", `url(#clip${i})`)
    .attr("fill", "none").attr("stroke", "#111").attr("stroke-width", 1)
    .attr("d", line);

  g.append("path").datum(sortByX(p.model))
    .attr("clip-path", `url(#clip${i})`)
    .attr("fill", "none").attr("stroke", "#ff0000").attr("stroke-width", 1.6)
    .attr("d", line);

  const xMinor = minorValues(p.xDomain, p.xMinor);
  const yMinor = minorValues(p.yDomain, p.yMinor);

  // x axes, bottom with labels, top without
  g.append("g").attr("transform", `translate(0,${panelH})`)
    .call(d3.axisBottom(x).tickValues(xMinor).tickSize(-2).tickSizeOuter(0).tickFormat(""))
    .call(styleAxis);
  g.append("g").attr("transform", `translate(0,${panelH})`)
    .call(d3.axisBottom(x).tickValues(p.xTicks).tickSize(-4).tickSizeOuter(0).tickPadding(18).tickFormat(d3.format("d")))
    .call(styleAxis);
  g.append("g")
    .call(d3.axisTop(x).tickValues(xMinor).tickSize(-2).tickSizeOuter(0).tickFormat(""))
    .call(styleAxis);
  g.append("g")
    .call(d3.axisTop(x).tickValues(p.xTicks).tickSize(-4).tickSizeOuter(0).tickFormat(""))
    .call(styleAxis);

  // y axes, left with labels, right without
  g.append("g").attr("transform", `translate(${plotLeft},0)`)
    .call(d3.axisLeft(y).tickValues(yMinor).tickSize(-12).tickSizeOuter(0).tickFormat(""))
    .call(styleAxis);
  g.append("g").attr("transform", `translate(${plotLeft},0)`)
    .call(d3.axisLeft(y).tickValues(p.yTicks).tickSize(-24).tickSizeOuter(0).tickPadding(10).tickFormat(d3.format(p.yFmt)))
    .call(styleAxis);
  g.append("g").attr("transform", `translate(${plotRight},0)`)
    .call(d3.axisRight(y).tickValues(yMinor).tickSize(-12).tickSizeOuter(0).tickFormat(""))
    .call(styleAxis);
  g.append("g").attr("transform", `translate(${plotRight},0)`)
    .call(d3.axisRight(y).tickValues(p.yTicks).tickSize(-24).tickSizeOuter(0).tickFormat(""))
    .call(styleAxis);

  g.append("text")
    .attr("transform", `translate(${p.yLabelX},${panelH / 2}) rotate(-90)`)
    .attr("text-anchor", "middle").attr("dy", "0.35em")
    .attr("font-family", font).attr("font-size", 21).attr("font-weight", 200).attr("fill", ink)
    .text("relative flux");

  if (p.xLabel) {
    g.append("text")
      .attr("x", (plotLeft + plotRight) / 2).attr("y", panelH + 62)
      .attr("text-anchor", "middle")
      .attr("font-family", font).attr("font-size", 21).attr("font-weight", 200).attr("fill", ink)
      .text(p.xLabel);
  }
});

root.append("text")
  .attr("x", (plotLeft + plotRight) / 2).attr("y", 139)
  .attr("text-anchor", "middle")
  .attr("font-family", font).attr("font-size", 23).attr("font-weight", 200).attr("fill", ink)
  .text("ζ Puppis");
</script>
</body>
</html>
